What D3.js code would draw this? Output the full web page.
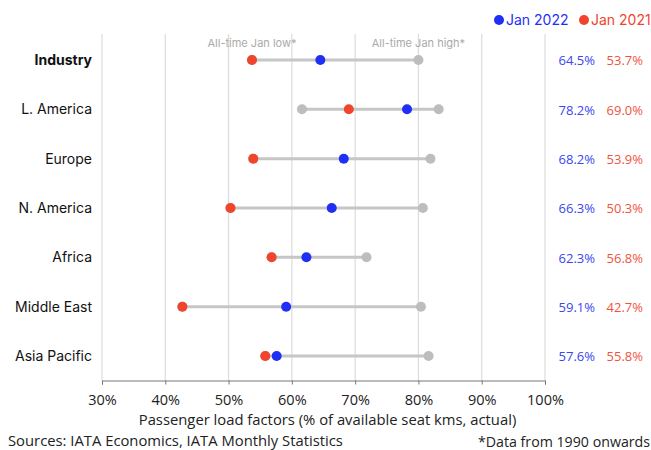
<!DOCTYPE html>
<html>
<head>
<meta charset="utf-8">
<script src="https://cdn.jsdelivr.net/npm/d3@7"></script>
<style>
  html, body { margin: 0; padding: 0; background: #fff; }
  svg { display: block; }
</style>
</head>
<body>
<svg id="chart" width="651" height="450"></svg>
<script>
// Passenger load factors, January, by region
const regions = ["Industry", "L. America", "Europe", "N. America", "Africa", "Middle East", "Asia Pacific"];
const jan2022 = [64.5, 78.2, 68.2, 66.3, 62.3, 59.1, 57.6];
const jan2021 = [53.7, 69.0, 53.9, 50.3, 56.8, 42.7, 55.8];
const allTimeLow = [53.7, 61.6, 53.9, 50.3, 56.8, 42.7, 55.8];
const allTimeHigh = [80.0, 83.2, 81.9, 80.7, 71.8, 80.4, 81.6];
const xTicks = [30, 40, 50, 60, 70, 80, 90, 100];

const BLUE = "#1f2ff5", RED = "#f0442c", GREY_DOT = "#bdbdbd", GREY_LINE = "#c6c6c6";
const BLUE_TXT = "#3a46ee", RED_TXT = "#f0543e";
const labelFont = "Inter, 'Noto Sans', sans-serif";
const numFont = "'Open Sans', 'Noto Sans', sans-serif";

const svg = d3.select("#chart");
const x = d3.scaleLinear().domain([30, 100]).range([102, 545]);
const y = d3.scalePoint().domain(regions).range([60, 356]);
const plotTop = 34, plotBottom = 380.5;

// vertical gridlines
svg.append("g").selectAll("line").data(xTicks).join("line")
  .attr("x1", d => x(d)).attr("x2", d => x(d))
  .attr("y1", plotTop).attr("y2", plotBottom)
  .attr("stroke", "#dcdcdc").attr("stroke-width", 1.2);

// x axis
const axis = svg.append("g").attr("transform", `translate(0,${plotBottom})`)
  .call(d3.axisBottom(x).tickValues(xTicks).tickFormat(d => d + "%").tickSizeInner(4).tickSizeOuter(4));
axis.select(".domain").attr("stroke", "#777");
axis.selectAll(".tick line").attr("stroke", "#777");
axis.selectAll(".tick text").attr("font-family", numFont).attr("font-size", 14.5).attr("fill", "#222")
  .attr("y", 11).attr("dy", "0.95em");

// axis title and footnotes
svg.append("text").attr("x", (x(30) + x(100)) / 2 + 4).attr("y", 425).attr("text-anchor", "middle")
  .attr("font-family", numFont).attr("font-size", 14.8).attr("fill", "#222")
  .text("Passenger load factors (% of available seat kms, actual)");
svg.append("text").attr("x", 8).attr("y", 446)
  .attr("font-family", numFont).attr("font-size", 14.8).attr("fill", "#222")
  .text("Sources: IATA Economics, IATA Monthly Statistics");
svg.append("text").attr("x", 650).attr("y", 447).attr("text-anchor", "end")
  .attr("font-family", numFont).attr("font-size", 14.2).attr("fill", "#222")
  .text("*Data from 1990 onwards");

// annotations for the all-time range, on the Industry row
svg.append("text").attr("x", x(allTimeLow[0])).attr("y", 47).attr("text-anchor", "middle")
  .attr("font-family", labelFont).attr("font-size", 11).attr("fill", "#aaa")
  .text("All-time Jan low*");
svg.append("text").attr("x", x(allTimeHigh[0])).attr("y", 47).attr("text-anchor", "middle")
  .attr("font-family", labelFont).attr("font-size", 11).attr("fill", "#aaa")
  .text("All-time Jan high*");

const rows = regions.map((r, i) => ({
  region: r, v22: jan2022[i], v21: jan2021[i], lo: allTimeLow[i], hi: allTimeHigh[i]
}));

// range connectors
svg.append("g").selectAll("line").data(rows).join("line")
  .attr("x1", d => x(Math.min(d.lo, d.v21, d.v22))).attr("x2", d => x(Math.max(d.hi, d.v21, d.v22)))
  .attr("y1", d => y(d.region)).attr("y2", d => y(d.region))
  .attr("stroke", GREY_LINE).attr("stroke-width", 3);

const r = 5;
// all-time low / high dots
svg.append("g").selectAll("circle").data(rows.flatMap(d => [{ region: d.region, v: d.lo }, { region: d.region, v: d.hi }]))
  .join("circle").attr("cx", d => x(d.v)).attr("cy", d => y(d.region)).attr("r", r).attr("fill", GREY_DOT);
// Jan 2021
svg.append("g").selectAll("circle").data(rows).join("circle")
  .attr("cx", d => x(d.v21)).attr("cy", d => y(d.region)).attr("r", r).attr("fill", RED);
// Jan 2022
svg.append("g").selectAll("circle").data(rows).join("circle")
  .attr("cx", d => x(d.v22)).attr("cy", d => y(d.region)).attr("r", r).attr("fill", BLUE);

// category labels
svg.append("g").selectAll("text").data(rows).join("text")
  .attr("x", 92).attr("y", d => y(d.region)).attr("dy", "0.35em").attr("text-anchor", "end")
  .attr("font-family", labelFont).attr("font-size", 14).attr("fill", "#111")
  .attr("font-weight", (d, i) => i === 0 ? 700 : 400)
  .text(d => d.region);

// value labels
svg.append("g").selectAll("text").data(rows).join("text")
  .attr("x", 595).attr("y", d => y(d.region)).attr("dy", "0.4em").attr("text-anchor", "end")
  .attr("font-family", numFont).attr("font-size", 13).attr("fill", BLUE_TXT)
  .text(d => d.v22.toFixed(1) + "%");
svg.append("g").selectAll("text").data(rows).join("text")
  .attr("x", 643).attr("y", d => y(d.region)).attr("dy", "0.4em").attr("text-anchor", "end")
  .attr("font-family", numFont).attr("font-size", 13).attr("fill", RED_TXT)
  .text(d => d.v21.toFixed(1) + "%");

// legend
const legend = [{ label: "Jan 2022", color: BLUE, x: 499 }, { label: "Jan 2021", color: RED, x: 584 }];
const lg = svg.append("g").selectAll("g").data(legend).join("g")
  .attr("transform", d => `translate(${d.x},20)`);
lg.append("circle").attr("r", 5).attr("fill", d => d.color);
lg.append("text").attr("x", 7).attr("dy", "0.36em")
  .attr("font-family", labelFont).attr("font-size", 14).attr("fill", d => d.color)
  .text(d => d.label);
</script>
</body>
</html>
